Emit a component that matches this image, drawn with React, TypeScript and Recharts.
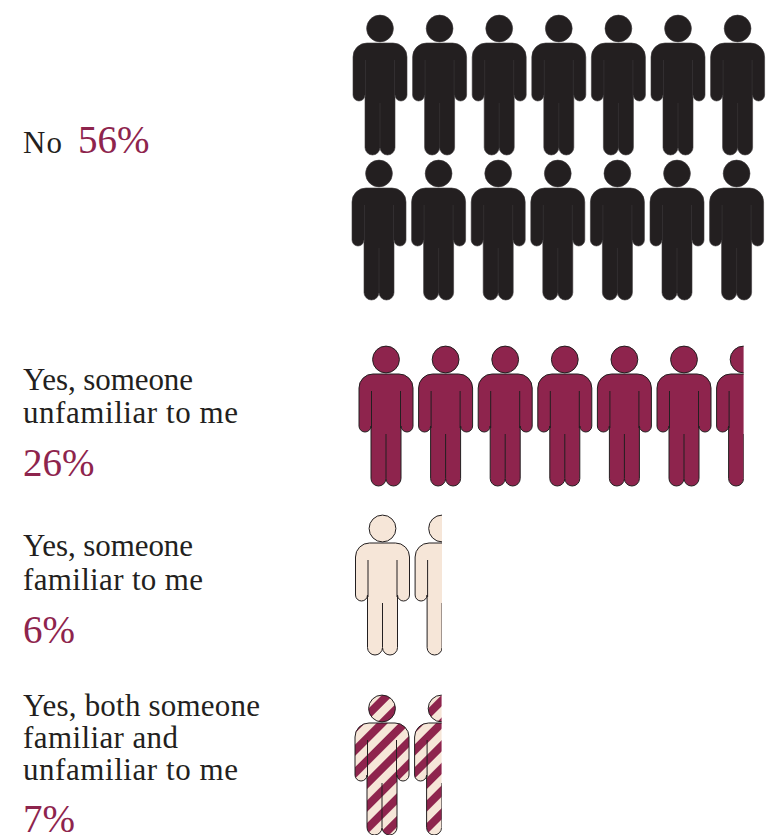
import { Scatter, ScatterChart, XAxis, YAxis } from "recharts";

const categories = ["No", "Yes, someone unfamiliar to me", "Yes, someone familiar to me", "Yes, both someone familiar and unfamiliar to me"];
const percents = [56, 26, 6, 7];
// icons as drawn in the source, one icon is about 4%
const iconCounts = [14, 6.5, 1.5, 1.5];
const iconsPerRow = 7;

const labelLines = [["No"], ["Yes, someone", "unfamiliar to me"], ["Yes, someone", "familiar to me"], ["Yes, both someone", "familiar and", "unfamiliar to me"]];

const INK = "#231f20";
const MAROON = "#8e244d";
const CREAM = "#f6e6d8";
const SERIF = '"Liberation Serif", serif';

const WIDTH = 767;
const HEIGHT = 835;

// column 0 sits at x=380, each column is one icon pitch wide
const COL_X = 380;
const COL_PITCH = 59.6;
const ROW_Y = 15;
const ROW_PITCH = 170;
// the icon rows are not evenly spaced in the source, so small per-row nudges
const ROW_NUDGE_X = [0, -1, 6, 2.5, 2];
const ROW_NUDGE_Y = [0, -25, -9, -10, 0];

const FILLS = [INK, MAROON, CREAM, "url(#stripes)"];
const STROKES = ["#3d393a", INK, INK, INK];

type Icon = { column: number; row: number; share: number };

function buildIcons() {
  let row = 0;
  return iconCounts.map((count) => {
    const icons: Icon[] = [];
    for (let i = 0; i < Math.ceil(count); i++) {
      if (i > 0 && i % iconsPerRow === 0) row++;
      icons.push({ column: i % iconsPerRow, row, share: Math.min(1, count - i) });
    }
    row++;
    return icons;
  });
}

const OUTLINE =
  "M-13 28H13A14 14 0 0 1 27 42V80A6 6 0 0 1 15 80V132.5A7.5 7.5 0 0 1 0 132.5A7.5 7.5 0 0 1 -15 132.5V80A6 6 0 0 1 -27 80V42A14 14 0 0 1 -13 28Z";
const SLITS = "M14.5 45V82M-14.5 45V82M0 88V132";

function Person(props: any, seriesIndex: number) {
  const { cx, cy, payload } = props;
  const fill = FILLS[seriesIndex];
  const stroke = STROKES[seriesIndex];
  const sw = seriesIndex === 0 ? 0.6 : 1;
  const clipId = `cut-${seriesIndex}-${payload.row}-${payload.column}`;
  const partial = payload.share < 1;
  return (
    <g transform={`translate(${cx + ROW_NUDGE_X[payload.row]},${cy + ROW_NUDGE_Y[payload.row]})`}>
      {partial && (
        <clipPath id={clipId}>
          <rect x={-30} y={-2} width={3 + 54 * payload.share} height={146} />
        </clipPath>
      )}
      <g clipPath={partial ? `url(#${clipId})` : undefined}>
        <circle cx={0} cy={13.5} r={13.4} fill={fill} stroke={stroke} strokeWidth={sw} />
        <path d={OUTLINE} fill={fill} stroke={stroke} strokeWidth={sw} />
        <path d={SLITS} fill="none" stroke={stroke} strokeWidth={sw} />
      </g>
    </g>
  );
}

// text layout: baselines and the width of each line
const TEXT_Y = [[153], [390, 423], [556, 590], [716, 748, 780]];
const TEXT_W = [[39], [170, 215], [170, 180], [237, 155, 215]];
const PCT_Y = [153, 476, 643, 832];
const LABEL_X = 23;

export default function App() {
  const series = buildIcons();
  return (
    <div style={{ position: "absolute", left: 0, top: 0, width: WIDTH, height: HEIGHT, overflow: "hidden", background: "#fff" }}>
      <ScatterChart width={WIDTH} height={HEIGHT} margin={{ top: 0, right: 0, bottom: 0, left: 0 }}>
        <defs>
          <pattern id="stripes" patternUnits="userSpaceOnUse" width={16} height={16} patternTransform="rotate(45)">
            <rect width={16} height={16} fill={CREAM} />
            <rect width={8} height={16} fill={MAROON} />
          </pattern>
        </defs>
        <XAxis hide type="number" dataKey="column" domain={[-COL_X / COL_PITCH, (WIDTH - COL_X) / COL_PITCH]} />
        <YAxis hide reversed type="number" dataKey="row" domain={[-ROW_Y / ROW_PITCH, (HEIGHT - ROW_Y) / ROW_PITCH]} />
        {series.map((icons, i) => (
          <Scatter key={categories[i]} name={categories[i]} data={icons} isAnimationActive={false} shape={(p: any) => Person(p, i)} />
        ))}
        {labelLines.map((lines, i) => (
          <g key={categories[i]} fontFamily={SERIF}>
            {lines.map((line, j) => (
              <text key={line} x={LABEL_X} y={TEXT_Y[i][j]} fontSize={31} fill={INK} textLength={TEXT_W[i][j]}>
                {line}
              </text>
            ))}
            <text x={i === 0 ? 78 : LABEL_X} y={PCT_Y[i]} fontSize={39} fill={MAROON}>
              {percents[i]}%
            </text>
          </g>
        ))}
      </ScatterChart>
    </div>
  );
}
